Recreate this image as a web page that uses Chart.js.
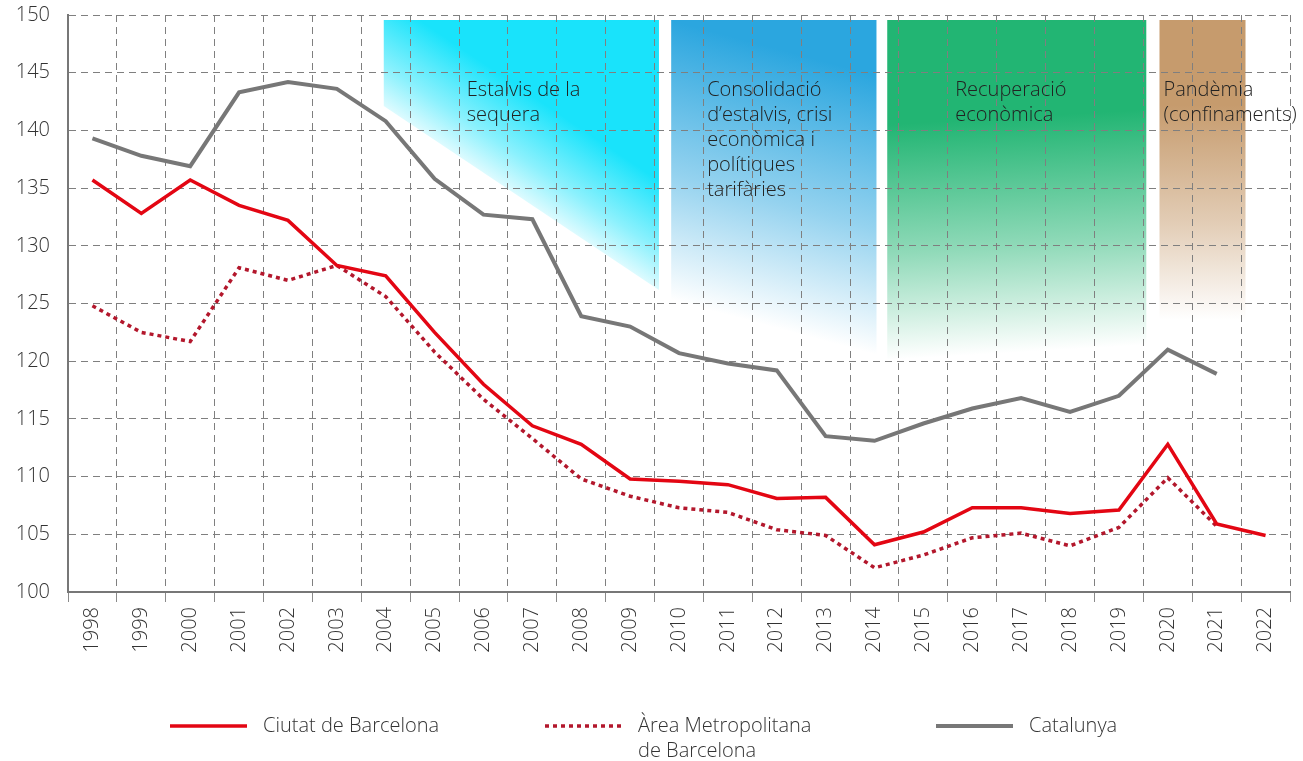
<!DOCTYPE html>
<html>
<head>
<meta charset="utf-8">
<script src="https://cdn.jsdelivr.net/npm/chart.js@4.4.1/dist/chart.umd.min.js"></script>
<style>
  html, body { margin: 0; padding: 0; background: #fff; }
  #wrap { width: 1303px; height: 761px; position: relative; }
</style>
</head>
<body>
<div id="wrap"><canvas id="chart"></canvas></div>
<script>
// data
const years = ['1998', '1999', '2000', '2001', '2002', '2003', '2004', '2005', '2006', '2007', '2008', '2009',
  '2010', '2011', '2012', '2013', '2014', '2015', '2016', '2017', '2018', '2019', '2020', '2021', '2022'];
const barcelona = [135.7, 132.8, 135.7, 133.5, 132.2, 128.3, 127.4, 122.5, 118.0, 114.4, 112.8, 109.8,
  109.6, 109.3, 108.1, 108.2, 104.1, 105.2, 107.3, 107.3, 106.8, 107.1, 112.8, 105.9, 104.9];
const metropolitana = [124.8, 122.5, 121.7, 128.1, 127.0, 128.3, 125.6, 120.8, 116.7, 113.3, 109.8, 108.3,
  107.3, 106.9, 105.4, 104.9, 102.1, 103.2, 104.7, 105.1, 104.0, 105.6, 109.9, 105.7, null];
const catalunya = [139.3, 137.8, 136.9, 143.3, 144.2, 143.6, 140.8, 135.8, 132.7, 132.3, 123.9, 123.0,
  120.7, 119.8, 119.2, 113.5, 113.1, 114.6, 115.9, 116.8, 115.6, 117.0, 121.0, 118.9, null];
const seriesNames = ['Ciutat de Barcelona', 'Àrea Metropolitana\nde Barcelona', 'Catalunya'];
const yMin = 100, yMax = 150, yStep = 5;

// periods (in years, fractional)
const periodNames = [
  ['Estalvis de la', 'sequera'],
  ['Consolidació', 'd’estalvis, crisi', 'econòmica i', 'polítiques', 'tarifàries'],
  ['Recuperació', 'econòmica'],
  ['Pandèmia', '(confinaments)']
];
const periodFrom = [2003.96, 2009.84, 2014.26, 2019.83];
const periodTo = [2009.59, 2014.04, 2019.56, 2021.59];
const periodColors = ['#19e3fb', '#2ba6df', '#22b573', '#c69b6d'];

const FONT = '"Open Sans", "Noto Sans", sans-serif';

// shape of each fading band, relative to the chart area top (px)
const bandStyle = [
  { top: 5, bottomL: 91, bottomR: 275, fade: 105, shift: 14, textDx: 83 },
  { top: 5, bottomL: 285, bottomR: 340, fade: 270, shift: 0, textDx: 36 },
  { top: 5, bottomL: 345, bottomR: 330, fade: 235, shift: 0, textDx: 68 },
  { top: 5, bottomL: 305, bottomR: 305, fade: 215, shift: 0, textDx: 4 }
];

function hexToRgba(hex, a) {
  const n = parseInt(hex.slice(1), 16);
  return 'rgba(' + (n >> 16) + ',' + ((n >> 8) & 255) + ',' + (n & 255) + ',' + a + ')';
}

const periodBands = {
  id: 'periodBands',
  beforeDraw(chart) {
    const { ctx, chartArea, scales: { x } } = chart;
    ctx.save();
    ctx.fillStyle = '#fff';
    ctx.fillRect(0, 0, chart.width, chart.height);
    periodFrom.forEach((from, i) => {
      const st = bandStyle[i];
      const x0 = x.getPixelForValue(from - 1998);
      const x1 = x.getPixelForValue(periodTo[i] - 1998);
      const top = chartArea.top + st.top;
      const yL = chartArea.top + st.bottomL;
      const yR = chartArea.top + st.bottomR;
      // normal of the bottom edge, pointing up
      const dx = x1 - x0, dy = yR - yL;
      const len = Math.hypot(dx, dy);
      const nx = dy / len, ny = -dx / len;
      const mx = (x0 + x1) / 2 - nx * st.shift, my = (yL + yR) / 2 - ny * st.shift;
      const g = ctx.createLinearGradient(mx, my, mx + nx * st.fade, my + ny * st.fade);
      g.addColorStop(0, hexToRgba(periodColors[i], 0));
      g.addColorStop(0.45, hexToRgba(periodColors[i], 0.5));
      g.addColorStop(1, hexToRgba(periodColors[i], 1));
      ctx.beginPath();
      ctx.moveTo(x0, top);
      ctx.lineTo(x1, top);
      ctx.lineTo(x1, yR);
      ctx.lineTo(x0, yL);
      ctx.closePath();
      ctx.fillStyle = g;
      ctx.fill();
    });
    ctx.restore();
  },
  beforeDatasetsDraw(chart) {
    const { ctx, chartArea, scales: { x } } = chart;
    ctx.save();
    ctx.font = '300 20px ' + FONT;
    ctx.fillStyle = '#222';
    ctx.textBaseline = 'middle';
    ctx.textAlign = 'left';
    periodNames.forEach((lines, i) => {
      const tx = x.getPixelForValue(periodFrom[i] - 1998) + bandStyle[i].textDx;
      lines.forEach((t, j) => ctx.fillText(t, tx, chartArea.top + 75 + j * 25));
    });
    ctx.restore();
  }
};

const bottomLegend = {
  id: 'bottomLegend',
  afterDraw(chart) {
    const { ctx } = chart;
    const slots = [170, 545, 936];
    const y = 726;
    ctx.save();
    chart.data.datasets.forEach((ds, i) => {
      const lx = slots[i];
      ctx.beginPath();
      ctx.setLineDash(ds.borderDash || []);
      ctx.lineWidth = ds.borderWidth;
      ctx.strokeStyle = ds.borderColor;
      ctx.moveTo(lx, y);
      ctx.lineTo(lx + 77, y);
      ctx.stroke();
      ctx.setLineDash([]);
      ctx.font = '300 20px ' + FONT;
      ctx.fillStyle = '#333';
      ctx.textBaseline = 'middle';
      ds.label.split('\n').forEach((t, j) => ctx.fillText(t, lx + 93, y + j * 25));
    });
    ctx.restore();
  }
};

new Chart(document.getElementById('chart'), {
  type: 'line',
  data: {
    labels: years,
    datasets: [
      { label: seriesNames[0], data: barcelona, borderColor: '#e30613', borderWidth: 3.5, pointRadius: 0, tension: 0 },
      { label: seriesNames[1], data: metropolitana, borderColor: '#b3172c', borderWidth: 3.5, borderDash: [4, 4], pointRadius: 0, tension: 0 },
      { label: seriesNames[2], data: catalunya, borderColor: '#777777', borderWidth: 4, pointRadius: 0, tension: 0 }
    ]
  },
  options: {
    responsive: true,
    maintainAspectRatio: false,
    animation: false,
    layout: { padding: { top: 15, right: 13, left: 0, bottom: 0 } },
    plugins: {
      legend: { display: false },
      tooltip: { enabled: false }
    },
    scales: {
      x: {
        offset: true,
        afterFit: (s) => { s.height = 169; },
        grid: { offset: true, color: '#7f7f7f', lineWidth: 1, tickLength: 10, tickColor: '#8a8a8a' },
        border: { display: true, color: '#777', width: 2, dash: [7, 5] },
        ticks: {
          autoSkip: false, minRotation: 90, maxRotation: 90, padding: 5,
          color: '#333', font: { family: FONT, size: 20, weight: '300' }
        }
      },
      y: {
        min: yMin, max: yMax,
        afterFit: (s) => { s.width = 68; s.paddingTop = 0; s.paddingBottom = 0; },
        grid: { color: '#7f7f7f', lineWidth: 1, drawTicks: false },
        border: { display: true, color: '#777', width: 2, dash: [7, 5] },
        ticks: {
          stepSize: yStep, padding: 18,
          color: '#333', font: { family: FONT, size: 20, weight: '300' }
        }
      }
    }
  },
  plugins: [periodBands, bottomLegend]
});
</script>
</body>
</html>
